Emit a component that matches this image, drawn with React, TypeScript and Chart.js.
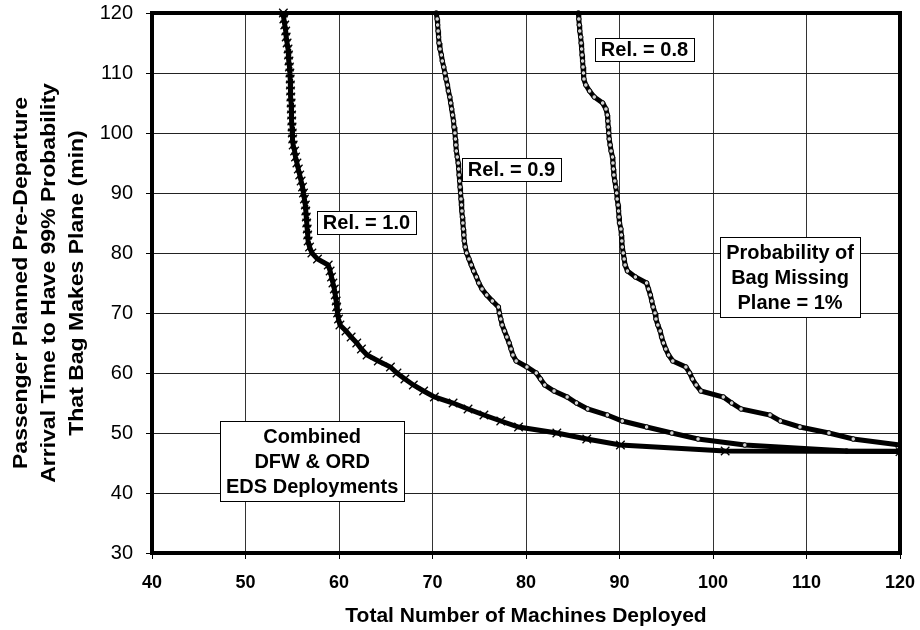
import React, { useEffect, useRef } from "react";
import { Chart, registerables } from "chart.js";

Chart.register(...registerables);

// ---- Data ----
const xTicks = [40, 50, 60, 70, 80, 90, 100, 110, 120];
const yTicks = [30, 40, 50, 60, 70, 80, 90, 100, 110, 120];

const rel10Minutes = [120,119,118,117,116,115,114,113,112,111,110,109,108,107,106,105,104,103,102,101,100,99,98,97,96,95,94,93,92,91,90,89,88,87,86,85,84,83,82,81,80,79,78,77,76,75,74,73,72,71,70,69,68,67,66,65,64,63,62,61,60,59,58,57,56,55,54,53,52,51,50,49,48,47,46.9];
const rel10Machines = [54.05,54.1,54.2,54.3,54.35,54.45,54.55,54.6,54.65,54.7,
  54.75,54.78,54.8,54.82,54.85,54.88,54.9,54.93,54.95,54.98,
  55.0,55.05,55.1,55.25,55.35,55.5,55.65,55.8,55.95,56.1,
  56.2,56.3,56.4,56.45,56.5,56.55,56.6,56.65,56.7,56.85,
  57.1,57.7,58.85,59.05,59.2,59.35,59.5,59.6,59.7,59.75,
  59.85,59.95,60.1,60.75,61.3,61.9,62.4,63.0,64.2,65.5,
  66.2,67.05,67.95,69.05,70.2,72.2,73.8,75.5,77.3,79.2,
  83.3,86.5,90.1,101.3,120];

const rel09Minutes = [120,119,118,117,116,115,114,113,112,111,110,109,108,107,106,105,104,103,102,101,100,99,98,97,96,95,94,93,92,91,90,89,88,87,86,85,84,83,82,81,80,79,78,77,76,75,74,73,72,71,70,69,68,67,66,65,64,63,62,61,60,59,58,57,56,55,54,53,52,51,50,49,48,47,46.95];
const rel09Machines = [70.4,70.5,70.55,70.6,70.65,70.7,70.8,70.95,71.05,71.2,
  71.33,71.45,71.6,71.7,71.85,71.95,72.05,72.15,72.25,72.3,
  72.4,72.45,72.5,72.55,72.65,72.75,72.8,72.85,72.9,72.95,
  73.0,73.05,73.1,73.15,73.2,73.25,73.3,73.35,73.4,73.5,
  73.65,73.9,74.15,74.4,74.7,74.95,75.3,75.8,76.4,77.05,
  77.15,77.3,77.45,77.7,77.95,78.2,78.4,78.6,78.95,80.1,
  81.1,81.55,82.0,83.0,84.4,85.4,86.6,88.7,90.3,92.9,
  95.6,98.4,103.4,114.3,120];

const rel08Minutes = [120,119,118,117,116,115,114,113,112,111,110,109,108,107,106,105,104,103,102,101,100,99,98,97,96,95,94,93,92,91,90,89,88,87,86,85,84,83,82,81,80,79,78,77,76,75,74,73,72,71,70,69,68,67,66,65,64,63,62,61,60,59,58,57,56,55,54,53,52,51,50,49,48];
const rel08Machines = [85.6,85.65,85.7,85.75,85.85,85.9,85.95,86.0,86.05,86.1,
  86.15,86.2,86.4,86.8,87.3,88.2,88.55,88.7,88.75,88.8,
  88.85,88.9,89.0,89.1,89.25,89.3,89.35,89.4,89.5,89.6,
  89.7,89.75,89.85,89.9,89.95,90.0,90.15,90.2,90.25,90.3,
  90.4,90.5,90.6,90.85,91.7,92.9,93.1,93.3,93.45,93.6,
  93.8,93.9,94.1,94.35,94.5,94.7,94.95,95.25,95.7,97.1,
  97.5,97.8,98.2,98.7,101.1,102.0,103.0,106.1,107.2,109.3,
  112.4,115.0,120];

const seriesLabels = ["Rel. = 1.0", "Rel. = 0.9", "Rel. = 0.8"];

const xTitle = "Total Number of Machines Deployed";
const yTitle = [
  "Passenger Planned Pre-Departure",
  "Arrival Time to Have 99% Probability",
  "That Bag Makes Plane (min)",
];

// Text boxes (anchored in data coordinates)
const boxNotes = [
  { x: 62.94, y: 85.05, lines: ["Rel. = 1.0"] },
  { x: 78.45, y: 93.97, lines: ["Rel. = 0.9"] },
  { x: 92.67, y: 113.93, lines: ["Rel. = 0.8"] },
  { x: 108.24, y: 76.0, lines: ["Probability of", "Bag Missing", "Plane = 1%"] },
  { x: 57.13, y: 45.33, lines: ["Combined", "DFW & ORD", "EDS Deployments"] },
];

const FONT = "'Liberation Sans', Arial, Helvetica, sans-serif";

const toPoints = (xs: number[], ys: number[]) => xs.map((x, i) => ({ x, y: ys[i] }));

const framePlugin = {
  id: "frame",
  afterDatasetsDraw(chart: any) {
    const { ctx, chartArea } = chart;
    ctx.save();
    ctx.strokeStyle = "#000";
    ctx.lineWidth = 4;
    ctx.strokeRect(chartArea.left, chartArea.top, chartArea.right - chartArea.left, chartArea.bottom - chartArea.top);
    ctx.restore();
  },
};

const yTitlePlugin = {
  id: "yTitle",
  afterDraw(chart: any) {
    const { ctx, chartArea } = chart;
    const cy = (chartArea.top + chartArea.bottom) / 2;
    ctx.save();
    ctx.font = `bold 20px ${FONT}`;
    ctx.fillStyle = "#000";
    ctx.textAlign = "center";
    ctx.textBaseline = "middle";
    yTitle.forEach((line, i) => {
      ctx.save();
      ctx.translate(20 + i * 28, cy);
      ctx.rotate(-Math.PI / 2);
      ctx.scale(1.15, 1);
      ctx.fillText(line, 0, 1);
      ctx.restore();
    });
    ctx.restore();
  },
};

const notesPlugin = {
  id: "notes",
  afterDraw(chart: any) {
    const { ctx } = chart;
    const xs = chart.scales.x;
    const ys = chart.scales.y;
    ctx.save();
    ctx.font = `bold 20px ${FONT}`;
    ctx.textAlign = "center";
    ctx.textBaseline = "middle";
    for (const n of boxNotes) {
      const cx = xs.getPixelForValue(n.x);
      const cy = ys.getPixelForValue(n.y);
      const lh = 25;
      const w = Math.max(...n.lines.map((l) => ctx.measureText(l).width)) + 12;
      const h = n.lines.length === 1 ? 23 : n.lines.length * lh + 5;
      const left = Math.round(cx - w / 2) + 0.5;
      const top = Math.round(cy - h / 2) + 0.5;
      ctx.fillStyle = "#fff";
      ctx.fillRect(left, top, Math.round(w), Math.round(h));
      ctx.strokeStyle = "#000";
      ctx.lineWidth = 1;
      ctx.strokeRect(left, top, Math.round(w), Math.round(h));
      ctx.fillStyle = "#000";
      n.lines.forEach((line, i) => {
        const ty = cy + (i - (n.lines.length - 1) / 2) * lh + 1;
        ctx.fillText(line, cx, ty);
      });
    }
    ctx.restore();
  },
};

export default function App() {
  const ref = useRef<HTMLCanvasElement | null>(null);

  useEffect(() => {
    if (!ref.current) return;
    Chart.defaults.font.family = FONT;
    Chart.defaults.color = "#000";
    const lineCommon = {
      borderColor: "#000",
      borderWidth: 5,
      tension: 0,
      fill: false,
      clip: { left: 0, right: 0, top: 8, bottom: 0 },
    };
    const chart = new Chart(ref.current, {
      type: "line",
      data: {
        datasets: [
          {
            ...lineCommon,
            label: seriesLabels[0],
            data: toPoints(rel10Machines, rel10Minutes),
            pointStyle: "crossRot",
            pointRadius: 6,
            pointBorderWidth: 1.3,
            pointBorderColor: "#000",
            pointBackgroundColor: "#000",
          },
          {
            ...lineCommon,
            label: seriesLabels[1],
            data: toPoints(rel09Machines, rel09Minutes),
            pointStyle: "circle",
            pointRadius: 2.3,
            pointBorderWidth: 1,
            pointBorderColor: "#000",
            pointBackgroundColor: "#d4d4d4",
          },
          {
            ...lineCommon,
            label: seriesLabels[2],
            data: toPoints(rel08Machines, rel08Minutes),
            pointStyle: "circle",
            pointRadius: 2.3,
            pointBorderWidth: 1,
            pointBorderColor: "#000",
            pointBackgroundColor: "#d4d4d4",
          },
        ],
      },
      options: {
        responsive: false,
        animation: false,
        events: [],
        layout: { padding: { left: 0, top: 13, right: 20, bottom: 0 } },
        plugins: {
          legend: { display: false },
          tooltip: { enabled: false },
        },
        scales: {
          x: {
            type: "linear",
            min: 40,
            max: 120,
            afterFit: (s: any) => {
              s.height = 77;
              s.paddingLeft = 0;
              s.paddingRight = 0;
            },
            afterBuildTicks: (s: any) => {
              s.ticks = xTicks.map((v) => ({ value: v }));
            },
            ticks: {
              padding: 13,
              font: { size: 18, weight: "bold" },
              color: "#000",
            },
            grid: {
              color: "#333",
              lineWidth: 1,
              tickLength: 6,
              tickColor: "#000",
              tickWidth: 1,
            },
            border: { display: false },
            title: {
              display: true,
              text: xTitle,
              font: { size: 21, weight: "bold" },
              color: "#000",
              padding: { top: 0, bottom: 1 },
            },
          },
          y: {
            type: "linear",
            min: 30,
            max: 120,
            afterFit: (s: any) => {
              s.width = 152;
              s.paddingTop = 0;
              s.paddingBottom = 0;
            },
            afterBuildTicks: (s: any) => {
              s.ticks = yTicks.map((v) => ({ value: v }));
            },
            ticks: {
              padding: 13,
              font: { size: 20, weight: "normal" },
              color: "#000",
            },
            grid: {
              color: "#222",
              lineWidth: 1,
              tickLength: 6,
              tickColor: "#000",
              tickWidth: 1,
            },
            border: { display: false },
            title: { display: false },
          },
        },
      },
      plugins: [framePlugin, yTitlePlugin, notesPlugin],
    } as any);
    return () => chart.destroy();
  }, []);

  return (
    <div style={{ position: "fixed", left: 0, top: 0, width: 920, height: 630, background: "#fff" }}>
      <canvas ref={ref} width={920} height={630} style={{ display: "block", width: 920, height: 630 }} />
    </div>
  );
}
